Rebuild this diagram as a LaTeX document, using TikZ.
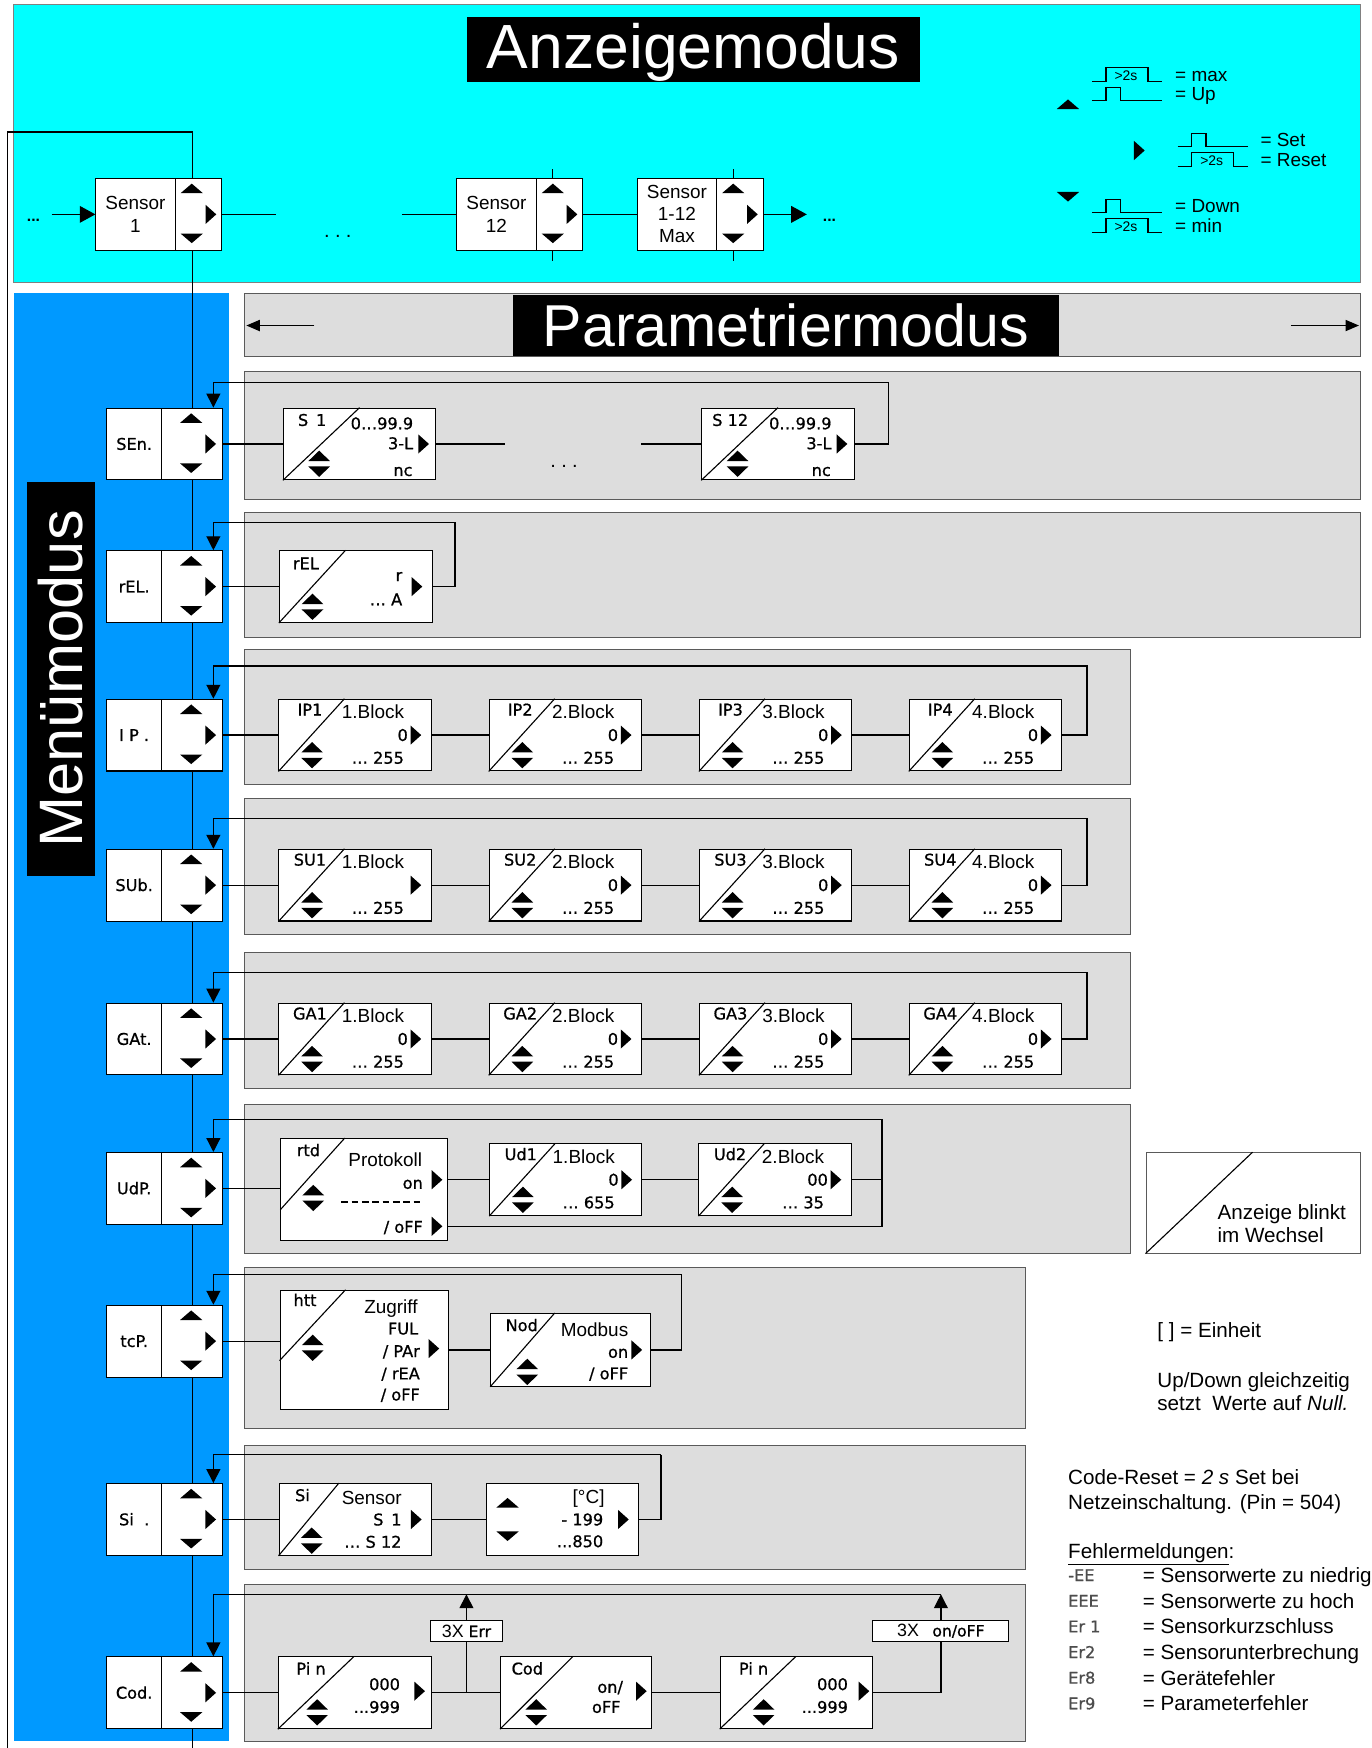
\documentclass[tikz,border=0pt]{standalone}
\usepackage{fontspec}
\setmainfont{Liberation Sans}
\newfontfamily\segf{DejaVu Sans}[FakeBold=0.8]
\usetikzlibrary{arrows.meta}
\definecolor{cyanbg}{RGB}{0,255,255}
\definecolor{bluebg}{RGB}{0,153,255}
\definecolor{panelg}{RGB}{221,221,221}
\definecolor{edgeg}{RGB}{90,90,90}
\tikzset{
  conn/.style={line width=1.1pt},
  arr/.style={conn,-{Triangle[length=12.5pt,width=12.5pt]}},
  sarr/.style={conn,-{Triangle[length=14pt,width=15pt]}},
  harr/.style={conn,-{Triangle[length=12pt,width=10pt]}},
  panel/.style={fill=panelg, draw=edgeg, line width=0.9pt},
  disp/.style={draw, fill=white, line width=0.9pt, inner sep=0pt, minimum height=64.3pt},
  wbox/.style={draw, fill=white, line width=0.9pt, inner sep=0pt, minimum height=64.4pt},
  diag/.style={line width=1pt},
  seg/.style={font=\segf\fontsize{14.5}{17}\selectfont, inner sep=0pt, text height=10.5pt, text depth=0pt},
  lab/.style={font=\fontsize{17}{20}\selectfont, inner sep=0pt, text height=12.2pt, text depth=0pt},
  rtxt/.style={font=\fontsize{18.5}{22}\selectfont, inner sep=0pt, anchor=west, text height=13.2pt, text depth=0pt},
  upT/.pic={\fill (-10,4.3) -- (10,4.3) -- (0,-4.3) -- cycle;},
  dnT/.pic={\fill (-10,-4.3) -- (10,-4.3) -- (0,4.3) -- cycle;},
  rtT/.pic={\fill (-4.8,-8.6) -- (-4.8,8.6) -- (4.8,0) -- cycle;},
  ud/.pic={\fill (-9.7,-2.4) -- (9.7,-2.4) -- (0,-11.8) -- cycle; \fill (-9.7,2.4) -- (9.7,2.4) -- (0,11.8) -- cycle;},
  shp/.pic={\draw[line width=1.1pt] (0,0) -- (12.6,0) -- (12.6,-12) -- (25.4,-12) -- (25.4,0) -- (62.8,0);},
  lgp/.pic={\draw[line width=1.1pt] (0,0) -- (12.6,0) -- (12.6,-12.5) -- (50.3,-12.5) -- (50.3,0) -- (62.8,0);
            \node[font=\fontsize{12.5}{14}\selectfont, inner sep=0pt] (-t) at (30.6,-5) {>2s};}
}
\newcommand\menublk[3]{%
  \node[wbox, seg, minimum width=49.3pt] (#1T) at (120.35,#2) {#3};
  \node[wbox, minimum width=55pt] (#1B) at (172.5,#2) {};
  \pic at (171.5,#2-23.2) {upT};
  \pic at (171.5,#2+21.7) {dnT};
  \pic at (189,#2) {rtT};}
\newcommand\bdisp[7]{%
  \node[disp, minimum width=136.5pt] (#1) at ({#2+68.25},#3) {};
  \draw[diag] (#1.south west) -- ([xshift=59.2pt]#1.north west);
  \node[seg] (#1l) at ([xshift=28.3pt,yshift=-9.8pt]#1.north west) {#4};
  \node[lab] (#1b) at ([xshift=84.8pt,yshift=-12pt]#1.north west) {#5};
  \node[seg, anchor=east] (#1z) at ([xshift=116.3pt]#1.west) {#6};
  \node[seg, anchor=east] (#1m) at ([xshift=112.8pt,yshift=-53pt]#1.north west) {#7};
  \pic at ([xshift=123.3pt]#1.west) {rtT};
  \pic at ([xshift=30.2pt,yshift=-50.6pt]#1.north west) {ud};}
\begin{document}
\begin{tikzpicture}[x=1pt,y=-1pt]
\useasboundingbox (0,0) rectangle (1230,1568);
% backgrounds
\filldraw[fill=cyanbg, draw=gray, line width=0.8pt] (12,3.6) rectangle (1220,253.6);
\fill[bluebg] (13,263) rectangle (205,1562);
\filldraw[panel] (219,263) rectangle (1220,320);
\filldraw[panel] (219,333) rectangle (1220,448);
\filldraw[panel] (219,460) rectangle (1220,571.8);
\filldraw[panel] (219,583) rectangle (1014,703.4);
\filldraw[panel] (219,716) rectangle (1014,838);
\filldraw[panel] (219,854) rectangle (1014,976);
\filldraw[panel] (219,991) rectangle (1014,1124);
\filldraw[panel] (219,1137) rectangle (920,1281.5);
\filldraw[panel] (219,1297) rectangle (920,1407.7);
\filldraw[panel] (219,1421) rectangle (920,1562);
% titles
\node[fill=black, text=white, inner sep=0pt, minimum width=406pt, minimum height=59pt, text height=40pt, text depth=7pt, font=\fontsize{56}{60}\selectfont] (az) at (622,44.5) {Anzeigemodus};
\node[fill=black, text=white, inner sep=0pt, minimum width=490pt, minimum height=54pt, text height=38pt, text depth=0pt, font=\fontsize{53}{58}\selectfont] (pm) at (705,292) {Parametriermodus};
\node[fill=black, text=white, inner sep=0pt, minimum width=354pt, minimum height=61pt, text height=39pt, text depth=0pt, rotate=90, font=\fontsize{55}{60}\selectfont] (mm) at (54.5,609) {Menümodus};
\coordinate (pal) at (282,292); \coordinate (pat) at (221,292);
\draw[harr] (pal) -- (pat);
\coordinate (par) at (1158,292); \coordinate (part) at (1219,292);
\draw[harr] (par) -- (part);
% legend
\pic at (958,93.5) {upT};
\pic at (1022,135) {rtT};
\pic at (958,176.5) {dnT};
\pic (pmax) at (979.4,73.3) {lgp};
\pic at (979.4,90.3) {shp};
\pic at (1056.3,131.6) {shp};
\pic (preset) at (1056.3,149.5) {lgp};
\pic at (979.4,190.8) {shp};
\pic (pmin) at (979.4,208.7) {lgp};
\node[lab, anchor=base west] (lmax) at (1054,73.3) {= max};
\node[lab, anchor=base west] (lup) at (1054,90.3) {= Up};
\node[lab, anchor=base west] (lset) at (1130.5,131.6) {= Set};
\node[lab, anchor=base west] (lres) at (1130.5,149.5) {= Reset};
\node[lab, anchor=base west] (ldown) at (1054,190.8) {= Down};
\node[lab, anchor=base west] (lmin) at (1054,208.7) {= min};
% sensor blocks
\node[wbox, minimum width=71pt, align=center, font=\fontsize{17}{20}\selectfont] (s1T) at (121.5,192.3) {Sensor\\1};
\node[wbox, minimum width=41.8pt] (s1B) at (177.9,192.3) {};
\pic at (172,169) {upT}; \pic at (172,213.8) {dnT}; \pic at (189.2,192.3) {rtT};
\node[wbox, minimum width=71pt, align=center, font=\fontsize{17}{20}\selectfont] (s12T) at (445.35,192.3) {Sensor\\12};
\node[wbox, minimum width=41.8pt] (s12B) at (501.75,192.3) {};
\pic at (495.9,169) {upT}; \pic at (495.9,213.8) {dnT}; \pic at (513.1,192.3) {rtT};
\node[wbox, minimum width=71pt, align=center, font=\fontsize{17}{19.7}\selectfont] (smT) at (607.2,192.3) {Sensor\\1-12\\Max};
\node[wbox, minimum width=41.8pt] (smB) at (663.6,192.3) {};
\pic at (657.7,169) {upT}; \pic at (657.7,213.8) {dnT}; \pic at (674.9,192.3) {rtT};
\node[font=\bfseries\fontsize{14}{16}\selectfont, inner sep=0pt] (dl) at (30,198) {...};
\node[font=\bfseries\fontsize{14}{16}\selectfont, inner sep=0pt] (dr) at (744,198) {...};
\node[font=\fontsize{18}{20}\selectfont, inner sep=0pt] (dm) at (303,212) {.\hspace{4.7pt}.\hspace{4.7pt}.};
\coordinate (dL) at (46.4,192.3);
\draw[sarr] (dL) -- (s1T.west);
\coordinate (g1) at (248,192.3); \draw[conn] (s1B.east) -- (g1);
\coordinate (g2) at (360.4,192.3); \draw[conn] (g2) -- (s12T.west);
\draw[conn] (s12B.east) -- (smT.west);
\coordinate (g3) at (723.7,192.3); \draw[sarr] (smB.east) -- (g3);
\coordinate (t12a) at (495.9,152); \draw[conn] (t12a) -- (t12a |- s12B.north);
\coordinate (t12b) at (495.9,234); \draw[conn] (t12b) -- (t12b |- s12B.south);
\coordinate (tma) at (657.7,152); \draw[conn] (tma) -- (tma |- smB.north);
\coordinate (tmb) at (657.7,234); \draw[conn] (tmb) -- (tmb |- smB.south);
% menu blocks
\menublk{sen}{398.25}{SEn.}
\menublk{rel}{526.2}{rEL.}
\menublk{ip}{659.4}{I P .}
\menublk{sub}{794}{SUb.}
\menublk{gat}{932}{GAt.}
\menublk{udp}{1066}{UdP.}
\menublk{tcp}{1203}{tcP.}
\menublk{si}{1363}{Si\ \ .}
\menublk{cod}{1518.45}{Cod.}
% main loop lines
\coordinate (lb) at (7,1568); \coordinate (lt) at (7,118.5); \coordinate (lc) at (172.5,118.5);
\draw[conn] (lb) -- (lt) -- (lc) -- (lc |- s1B.north);
\draw[conn] (s1B.south -| senB.north) -- (senB.north);
\draw[conn] (senB.south) -- (relB.north);
\draw[conn] (relB.south) -- (ipB.north);
\draw[conn] (ipB.south) -- (subB.north);
\draw[conn] (subB.south) -- (gatB.north);
\draw[conn] (gatB.south) -- (udpB.north);
\draw[conn] (udpB.south) -- (tcpB.north);
\draw[conn] (tcpB.south) -- (siB.north);
\draw[conn] (siB.south) -- (codB.north);
\draw[conn] (codB.south) -- (codB.south |- lb);
% row SEn
\node[disp, minimum width=136.7pt] (s1d) at (322.55,398.25) {};
\draw[diag] (s1d.south west) -- ([xshift=68.8pt]s1d.north west);
\node[seg] (s1dl) at (280,376.8) {S\hspace{7pt}1};
\node[seg, anchor=east] (s1dr) at (370.8,379.8) {0…99.9};
\node[seg, anchor=east] (s1dm) at (370.8,397.7) {3-L};
\node[seg, anchor=east] (s1dn) at (370.2,421.7) {nc};
\pic at (380,398.25) {rtT}; \pic at (286.3,416) {ud};
\node[disp, minimum width=136.7pt] (s12d) at (697.85,398.25) {};
\draw[diag] (s12d.south west) -- ([xshift=68.8pt]s12d.north west);
\node[seg] (s12dl) at (655,376.8) {S 12};
\node[seg, anchor=east] (s12dr) at (746.1,379.8) {0…99.9};
\node[seg, anchor=east] (s12dm) at (746.1,397.7) {3-L};
\node[seg, anchor=east] (s12dn) at (745.5,421.7) {nc};
\pic at (755.3,398.25) {rtT}; \pic at (661.6,416) {ud};
\draw[conn] (senB.east) -- (s1d.west);
\coordinate (sg1) at (453,398.25); \draw[conn] (s1d.east) -- (sg1);
\coordinate (sg2) at (575,398.25); \draw[conn] (sg2) -- (s12d.west);
\node[font=\fontsize{18}{20}\selectfont, inner sep=0pt] (sdm) at (506,418) {.\hspace{4.7pt}.\hspace{4.7pt}.};
\coordinate (senR) at (797,343.3);
\draw[arr] (s12d.east) -| (senR) -| ([xshift=18.9pt]senB.north);
% row rEL
\node[disp, minimum width=137.3pt] (reld) at (319.25,526.2) {};
\draw[diag] (reld.south west) -- ([xshift=59.8pt]reld.north west);
\node[seg] (reldl) at (274.4,505.4) {rEL};
\node[seg, anchor=east] (reldr) at (361,516) {r};
\node[seg, anchor=east] (relda) at (361,537.7) {… A};
\pic at (374,526.2) {rtT}; \pic at (280.3,544.3) {ud};
\draw[conn] (relB.east) -- (reld.west);
\coordinate (relR) at (408.2,469);
\draw[arr] (reld.east) -| (relR) -| ([xshift=18.9pt]relB.north);
% row IP
\bdisp{ipa}{250.2}{659.4}{IP1}{1.Block}{0}{… 255}
\bdisp{ipb}{438.8}{659.4}{IP2}{2.Block}{0}{… 255}
\bdisp{ipc}{627.4}{659.4}{IP3}{3.Block}{0}{… 255}
\bdisp{ipd}{815.6}{659.4}{IP4}{4.Block}{0}{… 255}
\draw[conn] (ipB.east) -- (ipa.west);
\draw[conn] (ipa.east) -- (ipb.west);
\draw[conn] (ipb.east) -- (ipc.west);
\draw[conn] (ipc.east) -- (ipd.west);
\coordinate (ipR) at (975,597.5);
\draw[arr] (ipd.east) -| (ipR) -| ([xshift=18.9pt]ipB.north);
% row SUb
\bdisp{sua}{250.2}{794}{SU1}{1.Block}{}{… 255}
\bdisp{sub2}{438.8}{794}{SU2}{2.Block}{0}{… 255}
\bdisp{suc}{627.4}{794}{SU3}{3.Block}{0}{… 255}
\bdisp{sud}{815.6}{794}{SU4}{4.Block}{0}{… 255}
\draw[conn] (subB.east) -- (sua.west);
\draw[conn] (sua.east) -- (sub2.west);
\draw[conn] (sub2.east) -- (suc.west);
\draw[conn] (suc.east) -- (sud.west);
\coordinate (subR) at (975,734);
\draw[arr] (sud.east) -| (subR) -| ([xshift=18.9pt]subB.north);
% row GAt
\bdisp{gaa}{250.2}{932}{GA1}{1.Block}{0}{… 255}
\bdisp{gab}{438.8}{932}{GA2}{2.Block}{0}{… 255}
\bdisp{gac}{627.4}{932}{GA3}{3.Block}{0}{… 255}
\bdisp{gad}{815.6}{932}{GA4}{4.Block}{0}{… 255}
\draw[conn] (gatB.east) -- (gaa.west);
\draw[conn] (gaa.east) -- (gab.west);
\draw[conn] (gab.east) -- (gac.west);
\draw[conn] (gac.east) -- (gad.west);
\coordinate (gatR) at (975,872);
\draw[arr] (gad.east) -| (gatR) -| ([xshift=18.9pt]gatB.north);
% row UdP
\node[wbox, minimum width=149.6pt, minimum height=91.2pt] (rtd) at (326.7,1066.9) {};
\draw[diag] ([yshift=-64.3pt]rtd.north west) -- ([xshift=57.8pt]rtd.north west);
\node[seg] (rtdl) at (276.7,1031.8) {rtd};
\node[lab] (rtdp) at (345.6,1040.7) {Protokoll};
\node[seg, anchor=east] (rtdon) at (379.5,1061.1) {on};
\pic at (392,1058.25) {rtT};
\draw[line width=1.6pt, dash pattern=on 6pt off 3.3pt] (306,1078.1) -- (378.4,1078.1);
\node[seg, anchor=east] (rtdoff) at (379.5,1100.5) {/ oFF};
\pic at (392,1100) {rtT};
\pic at (281,1074.6) {ud};
\bdisp{uda}{439.3}{1058.25}{Ud1}{1.Block}{0}{… 655}
\bdisp{udb}{627}{1058.25}{Ud2}{2.Block}{00}{… 35}
\draw[conn] (udpB.east) -- (udpB.east -| rtd.west);
\draw[conn] (uda.west -| rtd.east) -- (uda.west);
\draw[conn] (uda.east) -- (udb.west);
\coordinate (udR) at (791.2,1004);
\draw[conn] (udb.east) -| (udR);
\draw[conn] ([yshift=-33.1pt]rtd.east) -| (udR);
\draw[arr] (udR) -| ([xshift=18.9pt]udpB.north);
% blink legend
\node[draw=edgeg, fill=white, line width=0.9pt, minimum width=192pt, minimum height=90pt, inner sep=0pt] (blink) at (1124,1079) {};
\draw[diag] (blink.south west) -- ([xshift=96pt]blink.north west);
\node[rtxt] (bl1) at (1092,1087) {Anzeige blinkt};
\node[rtxt] (bl2) at (1092,1108) {im Wechsel};
% row tcP
\node[wbox, minimum width=151pt, minimum height=107pt] (htt) at (326.7,1210.9) {};
\draw[diag] ([yshift=-63.6pt]htt.north west) -- ([xshift=59.2pt]htt.north west);
\node[seg] (httl) at (273.6,1166.3) {htt};
\node[lab] (httz) at (350.7,1172.3) {Zugriff};
\node[seg, anchor=east] (htt1) at (375.3,1191.8) {FUL};
\node[seg, anchor=east] (htt2) at (376.8,1212) {/ PAr};
\node[seg, anchor=east] (htt3) at (376.8,1232.1) {/ rEA};
\node[seg, anchor=east] (htt4) at (376.8,1251) {/ oFF};
\pic at (389.2,1209.7) {rtT}; \pic at (280.5,1209) {ud};
\node[disp, minimum width=143pt, minimum height=65.2pt] (modd) at (511.7,1210.9) {};
\draw[diag] (modd.south west) -- ([xshift=57.8pt]modd.north west);
\node[seg] (moddl) at (468,1188.8) {Nod};
\node[lab] (moddm) at (533.3,1192.4) {Modbus};
\node[seg, anchor=east] (moddon) at (563.7,1212.7) {on};
\node[seg, anchor=east] (moddoff) at (563.7,1232) {/ oFF};
\pic at (571.2,1210.9) {rtT}; \pic at (473,1230.6) {ud};
\draw[conn] (tcpB.east) -- (tcpB.east -| htt.west);
\draw[conn] (modd.west -| htt.east) -- (modd.west);
\coordinate (tcR) at (611,1143);
\draw[conn] (modd.east) -| (tcR);
\draw[arr] (tcR) -| ([xshift=18.9pt]tcpB.north);
% right texts
\node[rtxt] (einh) at (1038,1193) {[ ] = Einheit};
\node[rtxt] (ud1t) at (1038,1238) {Up/Down gleichzeitig};
\node[rtxt] (ud2t) at (1038,1259) {setzt\ \ Werte auf \textit{Null.}};
\node[rtxt] (cr1) at (958,1325) {Code-Reset = \textit{2 s} Set bei};
\node[rtxt] (cr2) at (958,1347) {Netzeinschaltung. (Pin = 504)};
\node[rtxt] (feh) at (958,1391) {\underline{Fehlermeldungen}:};
\node[seg, anchor=west, text=black!70] (e1c) at (958,1413) {-EE};
\node[seg, anchor=west, text=black!70] (e2c) at (958,1436) {EEE};
\node[seg, anchor=west, text=black!70] (e3c) at (958,1459) {Er 1};
\node[seg, anchor=west, text=black!70] (e4c) at (958,1482) {Er2};
\node[seg, anchor=west, text=black!70] (e5c) at (958,1505) {Er8};
\node[seg, anchor=west, text=black!70] (e6c) at (958,1528) {Er9};
\node[rtxt] (e1t) at (1025,1413) {= Sensorwerte zu niedrig};
\node[rtxt] (e2t) at (1025,1436) {= Sensorwerte zu hoch};
\node[rtxt] (e3t) at (1025,1459) {= Sensorkurzschluss};
\node[rtxt] (e4t) at (1025,1482) {= Sensorunterbrechung};
\node[rtxt] (e5t) at (1025,1505) {= Gerätefehler};
\node[rtxt] (e6t) at (1025,1528) {= Parameterfehler};
% row Si
\node[disp, minimum width=136.4pt] (sid) at (318.5,1363) {};
\draw[diag] (sid.south west) -- ([xshift=54.1pt]sid.north west);
\node[seg] (sidl) at (271.3,1341.3) {Si};
\node[lab] (sids) at (333.5,1343.4) {Sensor};
\node[seg, anchor=east] (sid1) at (360.4,1363.1) {S\hspace{7pt}1};
\node[seg, anchor=east] (sid2) at (360.4,1383.1) {… S 12};
\pic at (373.4,1363) {rtT}; \pic at (279.6,1382) {ud};
\node[disp, minimum width=136.1pt] (sie) at (504.65,1363) {};
\pic at (455.3,1348) {upT}; \pic at (455.3,1378) {dnT};
\node[lab] (siec) at (528,1342.8) {[°C]};
\node[seg, anchor=east] (sie1) at (541.3,1363) {- 199};
\node[seg, anchor=east] (sie2) at (541.3,1382.6) {...850};
\pic at (559.2,1363) {rtT};
\draw[conn] (siB.east) -- (sid.west);
\draw[conn] (sid.east) -- (sie.west);
\coordinate (siR) at (593,1305);
\draw[conn] (sie.east) -| (siR);
\draw[arr] (siR) -| ([xshift=18.9pt]siB.north);
% row Cod
\node[disp, minimum width=137.5pt] (pina) at (318.45,1518.45) {};
\draw[diag] (pina.south west) -- ([xshift=68.3pt]pina.north west);
\node[seg] (pinal) at (279,1496.8) {Pi n};
\node[seg, anchor=east] (pina1) at (359,1510.8) {000};
\node[seg, anchor=east] (pina2) at (359,1531.2) {...999};
\pic at (376.4,1517) {rtT}; \pic at (284.5,1536) {ud};
\node[disp, minimum width=135pt] (codd) at (516.5,1518.45) {};
\draw[diag] (codd.south west) -- ([xshift=65.4pt]codd.north west);
\node[seg] (coddl) at (473,1496.8) {Cod};
\node[seg, anchor=east] (codd1) at (559,1513.2) {on/};
\node[seg, anchor=east] (codd2) at (556.8,1531.2) {oFF};
\pic at (575.3,1517) {rtT}; \pic at (481,1536) {ud};
\node[disp, minimum width=137pt] (pinb) at (714.5,1518.45) {};
\draw[diag] (pinb.south west) -- ([xshift=68.4pt]pinb.north west);
\node[seg] (pinbl) at (676,1496.8) {Pi n};
\node[seg, anchor=east] (pinb1) at (760.8,1510.8) {000};
\node[seg, anchor=east] (pinb2) at (760.8,1531.2) {...999};
\pic at (775,1517) {rtT}; \pic at (685,1536) {ud};
\node[draw, fill=white, line width=0.8pt, minimum width=64pt, minimum height=18pt, inner sep=0pt, font=\fontsize{16}{18}\selectfont] (err) at (418.4,1463) {3X {\segf\fontsize{14}{16}\selectfont Err}};
\node[draw, fill=white, line width=0.8pt, minimum width=122pt, minimum height=18pt, inner sep=0pt, font=\fontsize{16}{18}\selectfont] (onoff) at (844,1463) {3X\hspace{12pt}{\segf\fontsize{14}{16}\selectfont on/oFF}};
\draw[conn] (codB.east) -- (pina.west);
\draw[conn] (pina.east) -- (codd.west);
\draw[conn] (codd.east) -- (pinb.west);
\coordinate (j1) at (418.4,1518.45);
\draw[conn] (j1) -- (err.south);
\draw[conn] (pinb.east) -| (onoff.south);
\coordinate (codR) at (844,1430.1);
\draw[arr] (err.north) -- (err.north |- codR);
\draw[arr] (onoff.north) -- (onoff.north |- codR);
\draw[arr] (codR) -| ([xshift=18.9pt]codB.north);
\end{tikzpicture}
\end{document}
